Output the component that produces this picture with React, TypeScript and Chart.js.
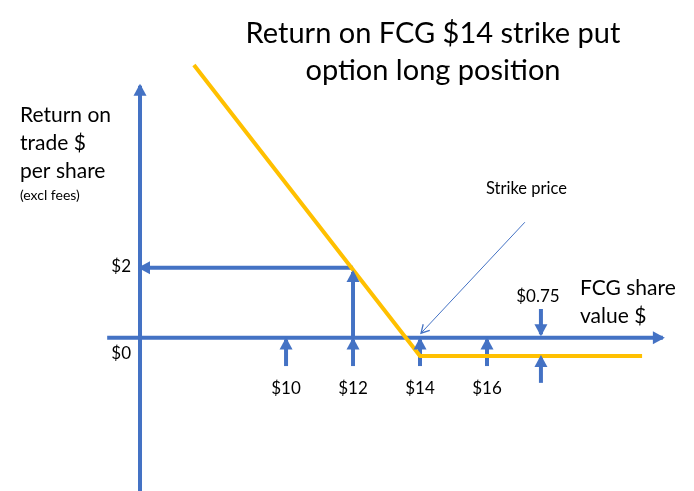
import React, { useEffect, useRef } from 'react';
import { Chart, registerables } from 'chart.js';

Chart.register(...registerables);

const BLUE = '#4472C4';
const GOLD = '#FFC000';
const FONT = 'Lato, "Open Sans", sans-serif';

// visible domain of the hidden scales
const xRange = [1.46, 22.18];
const yRange = [-4.38, 9.65];

// payoff of the long put (yellow)
const payoffX = [7.25, 14, 20.63];
const payoffY = [7.79, -0.52, -0.52];

// drawn axes
const yAxisX = [5.64, 5.64];
const yAxisY = [-4.6, 7.2];
const xAxisX = [4.66, 21.25];
const xAxisY = [0, 0];

// $2 guide arrows
const twoArrowX = [12, 5.64];
const twoArrowY = [2, 2];
const twelveUpX = [12, 12];
const twelveUpY = [0, 1.88];

// tick arrows under x axis
const tickValues = [10, 12, 14, 16];
const tickLabels = ['$10', '$12', '$14', '$16'];
const tickArrowY = [-0.81, -0.05];

// premium ($0.75) markers
const premiumX = 17.61;
const premiumLabel = '$0.75';
const premiumDownY = [0.82, 0.1];
const premiumUpY = [-1.29, -0.55];

// strike price pointer
const strikeArrowX = [17.13, 14.03];
const strikeArrowY = [3.3, 0.13];

// y value labels
const yLabelValues = [2, 0];
const yLabelTexts = ['$2', '$0'];

const titleLines = ['Return on FCG $14 strike put', 'option long position'];
const yTitleLines = ['Return on', 'trade $', 'per share'];
const yTitleNote = '(excl fees)';
const xTitleLines = ['FCG share', 'value $'];
const strikeLabel = 'Strike price';

const pts = (xs: number[], ys: number[]) => xs.map((x, i) => ({ x, y: ys[i] }));

const line = (data: any[], color: string, width: number, arrow?: any) => ({
  data,
  showLine: true,
  borderColor: color,
  backgroundColor: color,
  borderWidth: width,
  pointRadius: 0,
  pointHoverRadius: 0,
  tension: 0,
  fill: false,
  arrow,
});

const THICK = { len: 12, half: 6.5 };

const arrowPlugin = {
  id: 'arrows',
  afterDatasetsDraw(chart: any) {
    const ctx = chart.ctx;
    chart.data.datasets.forEach((ds: any, i: number) => {
      if (!ds.arrow) return;
      const meta = chart.getDatasetMeta(i);
      const n = meta.data.length;
      const p1 = meta.data[n - 2];
      const p2 = meta.data[n - 1];
      const ang = Math.atan2(p2.y - p1.y, p2.x - p1.x);
      const { len, half, open } = ds.arrow;
      const tx = p2.x + Math.cos(ang) * 2;
      const ty = p2.y + Math.sin(ang) * 2;
      const bx = tx - Math.cos(ang) * len;
      const by = ty - Math.sin(ang) * len;
      const nx = -Math.sin(ang) * half;
      const ny = Math.cos(ang) * half;
      ctx.save();
      if (open) {
        ctx.strokeStyle = ds.borderColor;
        ctx.lineWidth = 1.3;
        ctx.beginPath();
        ctx.moveTo(bx + nx, by + ny);
        ctx.lineTo(p2.x, p2.y);
        ctx.lineTo(bx - nx, by - ny);
        ctx.stroke();
      } else {
        ctx.fillStyle = ds.borderColor;
        ctx.beginPath();
        ctx.moveTo(tx, ty);
        ctx.lineTo(bx + nx, by + ny);
        ctx.lineTo(bx - nx, by - ny);
        ctx.closePath();
        ctx.fill();
      }
      ctx.restore();
    });
  },
};

const yLabelOffsets = [4.5, 21];

const textPlugin = {
  id: 'texts',
  afterDraw(chart: any) {
    const ctx = chart.ctx;
    const xs = chart.scales.x;
    const ys = chart.scales.y;
    const put = (t: string, x: number, y: number, size: number, align: CanvasTextAlign) => {
      ctx.font = `${size}px ${FONT}`;
      ctx.textAlign = align;
      ctx.textBaseline = 'alphabetic';
      ctx.fillStyle = '#000';
      ctx.fillText(t, x, y);
    };
    ctx.save();
    titleLines.forEach((t, i) => put(t, 433, 43 + i * 37, 29, 'center'));
    yTitleLines.forEach((t, i) => put(t, 20, 122 + i * 28, 21, 'left'));
    put(yTitleNote, 20, 200, 14, 'left');
    xTitleLines.forEach((t, i) => put(t, 580, 295 + i * 28, 21, 'left'));
    put(strikeLabel, 486, 194, 16.5, 'left');
    tickValues.forEach((v, i) => put(tickLabels[i], xs.getPixelForValue(v), 394, 17, 'center'));
    yLabelValues.forEach((v, i) => put(yLabelTexts[i], 131, ys.getPixelForValue(v) + yLabelOffsets[i], 17, 'right'));
    put(premiumLabel, xs.getPixelForValue(premiumX) - 3, ys.getPixelForValue(premiumDownY[0]) - 7, 17, 'center');
    ctx.restore();
  },
};

export default function App() {
  const ref = useRef<HTMLCanvasElement>(null);
  useEffect(() => {
    document.body.style.margin = '0';
    const datasets: any[] = [
      line(pts(payoffX, payoffY), GOLD, 4),
      line(pts(yAxisX, yAxisY), BLUE, 4, THICK),
      line(pts(xAxisX, xAxisY), BLUE, 4, THICK),
      line(pts(twoArrowX, twoArrowY), BLUE, 4, THICK),
      line(pts(twelveUpX, twelveUpY), BLUE, 4, THICK),
      ...tickValues.map((v) => line(pts([v, v], tickArrowY), BLUE, 4, THICK)),
      line(pts([premiumX, premiumX], premiumDownY), BLUE, 4, THICK),
      line(pts([premiumX, premiumX], premiumUpY), BLUE, 4, THICK),
      line(pts(strikeArrowX, strikeArrowY), BLUE, 1, { len: 10, half: 4.5, open: true }),
    ];
    const chart = new Chart(ref.current!, {
      type: 'scatter',
      data: { datasets },
      options: {
        animation: false,
        responsive: false,
        devicePixelRatio: 1,
        layout: { padding: 0 },
        plugins: { legend: { display: false }, title: { display: false }, tooltip: { enabled: false } },
        events: [],
        scales: {
          x: { type: 'linear', display: false, min: xRange[0], max: xRange[1] },
          y: { type: 'linear', display: false, min: yRange[0], max: yRange[1] },
        },
      },
      plugins: [arrowPlugin, textPlugin],
    });
    return () => chart.destroy();
  }, []);
  return (
    <div style={{ width: 694, height: 491, background: '#fff' }}>
      <canvas ref={ref} width={694} height={491} style={{ display: 'block' }} />
    </div>
  );
}
